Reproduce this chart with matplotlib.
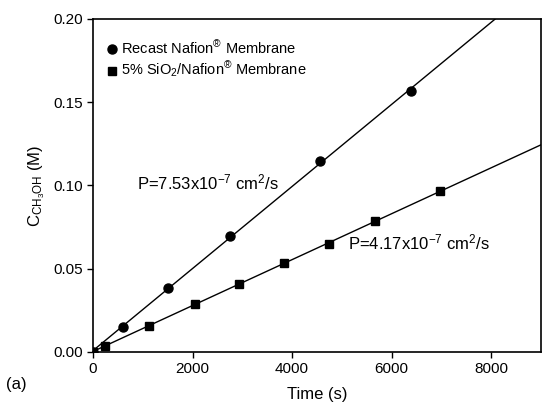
import numpy as np
import matplotlib
matplotlib.use('Agg')
import matplotlib.pyplot as plt
from matplotlib.ticker import FormatStrFormatter

# recast Nafion membrane
t_recast = [0, 610, 1500, 2750, 4570, 6380]
c_recast = [0.0, 0.0148, 0.0385, 0.0693, 0.1148, 0.1566]
# 5% SiO2/Nafion membrane
t_sio2 = [0, 240, 1130, 2040, 2940, 3830, 4750, 5660, 6970]
c_sio2 = [0.0, 0.0034, 0.0157, 0.0287, 0.0405, 0.0535, 0.0649, 0.0786, 0.0963]

x_ticks = [0, 2000, 4000, 6000, 8000]
y_ticks = [0.00, 0.05, 0.10, 0.15, 0.20]

plt.rcParams['font.family'] = ['Liberation Sans', 'DejaVu Sans']
plt.rcParams['mathtext.fontset'] = 'custom'
plt.rcParams['mathtext.rm'] = 'Liberation Sans'
plt.rcParams['mathtext.it'] = 'Liberation Sans'

fig = plt.figure(figsize=(5.58, 4.12), dpi=100)
ax = fig.add_axes([0.1667, 0.1464, 0.8028, 0.8075])

xfit = np.array([0, 9000])
for t, c, mk, ms, lab in [(t_recast, c_recast, 'o', 6.5, r'Recast Nafion$^{\circledR}$ Membrane'),
                          (t_sio2, c_sio2, 's', 5.5, r'5% SiO$_2$/Nafion$^{\circledR}$ Membrane')]:
    p = np.polyfit(t, c, 1)
    ax.plot(xfit, np.polyval(p, xfit), color='black', lw=1.0)
    ax.plot(t, c, mk, color='black', ms=ms, label=lab)

ax.text(880, 0.1015, r'P=7.53x10$^{-7}$ cm$^2$/s', fontsize=12, va='center')
ax.text(5130, 0.0655, r'P=4.17x10$^{-7}$ cm$^2$/s', fontsize=12, va='center')

ax.set_xlim(0, 9000)
ax.set_ylim(0, 0.2)
ax.set_xticks(x_ticks)
ax.set_yticks(y_ticks)
ax.yaxis.set_major_formatter(FormatStrFormatter('%.2f'))
ax.tick_params(direction='out', length=4, labelsize=11, width=1)
for s in ax.spines.values():
    s.set_linewidth(1.2)

ax.set_xlabel('Time (s)', fontsize=12, labelpad=8)
ax.set_ylabel(r'C$_{\mathrm{CH_3OH}}$ (M)', fontsize=12)
ax.legend(loc='upper left', bbox_to_anchor=(0.0, 0.975), frameon=False, fontsize=10.5,
          handletextpad=0.1, borderaxespad=0.4, labelspacing=0.25, handlelength=1.0)
fig.text(0.01, 0.055, '(a)', fontsize=12)

fig.savefig('out.png', dpi=100)
